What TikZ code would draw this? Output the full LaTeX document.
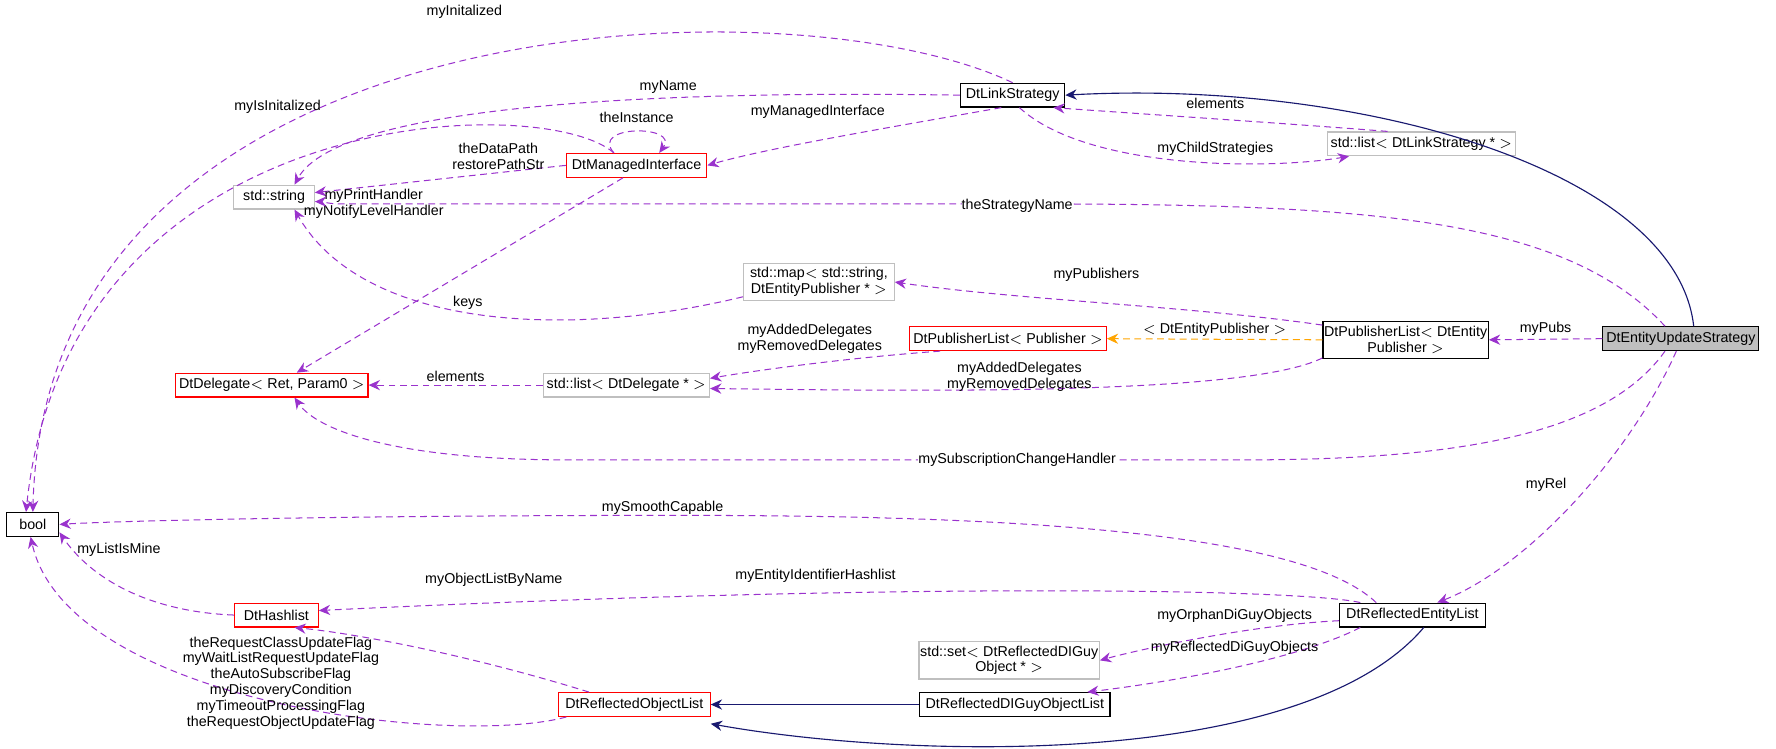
\documentclass[tikz,border=0pt]{standalone}
\usepackage{fontspec}
\setmainfont{Liberation Sans}
\usetikzlibrary{arrows.meta}
\definecolor{purp}{HTML}{9A32CD}
\definecolor{navy}{HTML}{191970}
\definecolor{orng}{HTML}{FFA500}
\definecolor{gbord}{HTML}{BFBFBF}
\begin{document}
\begin{tikzpicture}[x=0.5pt,y=-0.5pt,font=\fontsize{6.3}{7}\selectfont,
 box/.style={draw=black,rectangle,inner sep=1.5pt,minimum height=10.5pt,align=center,line width=0.5pt},
 rbox/.style={box,draw=red},
 gbox/.style={box,draw=gbord},
 use/.style={draw=purp,dashed,dash pattern=on 3pt off 2pt,line width=0.45pt,-{Stealth[length=5pt,width=4.5pt]}},
 inh/.style={draw=navy,line width=0.5pt,-{Stealth[length=5pt,width=4.5pt]}},
 tmpl/.style={draw=orng,dashed,dash pattern=on 3pt off 2pt,line width=0.45pt,-{Stealth[length=5pt,width=4.5pt]}},
 lbl/.style={align=center,inner sep=0pt}]
\fill[white] (0,0) rectangle (1568,661);
\node[box,fill=black!25,minimum width=64pt] (eus) at (1484,299) {DtEntityUpdateStrategy};
\node[box,minimum width=46pt] (ls) at (894,84) {DtLinkStrategy};
\node[gbox,minimum width=75pt] (lls) at (1255,127) {std::list$<$ DtLinkStrategy * $>$};
\node[rbox,minimum width=62pt] (mi) at (562,146) {DtManagedInterface};
\node[gbox,minimum width=35.5pt] (str) at (242,174) {std::string};
\node[gbox,minimum width=66.5pt,minimum height=16pt,inner sep=0.5pt] (map) at (723,249) {std::map$<$ std::string,\\DtEntityPublisher * $>$};
\node[box,minimum width=69pt,minimum height=16.5pt,inner sep=0.5pt] (pde) at (1241,300) {DtPublisherList$<$ DtEntity\\Publisher $>$};
\node[rbox,minimum width=78pt] (pp) at (890,299) {DtPublisherList$<$ Publisher $>$};
\node[gbox,minimum width=65.5pt] (ld) at (553,340) {std::list$<$ DtDelegate * $>$};
\node[rbox,minimum width=77.5pt] (del) at (240,340) {DtDelegate$<$ Ret, Param0 $>$};
\node[box,minimum width=23pt] (bool) at (29,463) {bool};
\node[rbox,minimum width=37pt] (hl) at (244,543) {DtHashlist};
\node[box,minimum width=64.5pt] (rel) at (1247,543) {DtReflectedEntityList};
\node[gbox,minimum width=79pt,minimum height=16.5pt,inner sep=0.5pt] (set) at (891,583) {std::set$<$ DtReflectedDIGuy\\Object * $>$};
\node[box,minimum width=84pt] (rdg) at (896,622) {DtReflectedDIGuyObjectList};
\node[rbox,minimum width=67pt] (rol) at (560,622) {DtReflectedObjectList};

% inheritance
\draw[inh] (eus.north east) ++(-58,0) .. controls (1480,150) and (1200,70) .. (ls.east);
\draw[inh] (rdg.west) -- (rol.east);
\draw[inh] (rel.south) ++(10,0) .. controls (1150,680) and (800,670) .. ([yshift=-3]rol.south east);
\draw[tmpl] (pde.west) -- node[lbl,above=1pt,pos=0.5]{$<$ DtEntityPublisher $>$} (pp.east);

% uses
\draw[use] (ls.north) .. controls (700,-20) and (40,0) .. (bool.north);
\node[lbl] at (410,10) {myInitalized};
\draw[use] (ls.west) .. controls (600,80) and (300,90) .. ([xshift=9]str.north);
\node[lbl] at (590,77) {myName};
\draw[use] ([xshift=-10]mi.north) .. controls (480,80) and (60,90) .. ([xshift=-3]bool.north);
\node[lbl] at (245,94) {myIsInitalized};
\draw[use] ([xshift=-10]mi.north) .. controls (520,110) and (600,110) .. ([xshift=10]mi.north);
\node[lbl] at (562,104) {theInstance};
\draw[use] ([xshift=-5]ls.south) .. controls (800,110) and (680,130) .. (mi.east);
\node[lbl] at (722,99) {myManagedInterface};
\draw[use] ([xshift=-15]lls.north) .. controls (1150,110) and (1000,100) .. ([xshift=18]ls.south);
\node[lbl] at (1073,91) {elements};
\draw[use] ([xshift=3]ls.south) .. controls (960,150) and (1120,150) .. ([xshift=-32]lls.south);
\node[lbl] at (1073,131) {myChildStrategies};
\draw[use] (mi.west) -- ([yshift=2]str.east);
\node[lbl] at (440,138) {theDataPath\\restorePathStr};
\draw[use] ([xshift=-6]mi.south) -- ([xshift=11]del.north);
\node[lbl] at (330,180) {myPrintHandler\\myNotifyLevelHandler};
\draw[use] ([xshift=-7]eus.north) .. controls (1380,190) and (1200,180) .. (900,180) -- (300,180) .. controls (290,180) and (285,178) .. ([yshift=-2]str.east);
\node[lbl,fill=white] at (898,182) {theStrategyName};
\draw[use] ([yshift=-6.5]map.west) .. controls (500,300) and (320,290) .. ([xshift=9]str.south);
\node[lbl] at (413,267) {keys};
\draw[use] ([yshift=6.5]pde.west) .. controls (1050,270) and (900,265) .. (map.east);
\node[lbl] at (968,243) {myPublishers};
\draw[use] ([xshift=-30]pp.south) .. controls (760,315) and (680,325) .. ([yshift=3]ld.east);
\node[lbl] at (715,299) {myAddedDelegates\\myRemovedDelegates};
\draw[use] ([yshift=-8]pde.west) .. controls (1100,350) and (800,345) .. ([yshift=-1.5]ld.east);
\node[lbl] at (900,333) {myAddedDelegates\\myRemovedDelegates};
\draw[use] (eus.west) -- node[lbl,above=1.5pt]{myPubs} (pde.east);
\draw[use] (ld.west) -- node[lbl,above=1.5pt]{elements} (del.east);
\draw[use] ([xshift=-7]eus.south) .. controls (1420,380) and (1300,406) .. (1100,406) -- (500,406) .. controls (350,406) and (280,380) .. ([xshift=10]del.south);
\node[lbl,fill=white] at (898,406) {mySubscriptionChangeHandler};
\draw[use] ([xshift=-2]eus.south) .. controls (1440,400) and (1350,500) .. ([xshift=11]rel.north);
\node[lbl] at (1365,428) {myRel};
\draw[use] ([xshift=-16]rel.north) .. controls (1150,470) and (900,455) .. (600,455) .. controls (300,455) and (100,460) .. (bool.east);
\node[lbl] at (585,448) {mySmoothCapable};
\draw[use] ([xshift=-23]rel.north) .. controls (1150,520) and (800,514) .. ([yshift=2]hl.east);
\node[lbl] at (720,508) {myEntityIdentifierHashlist};
\draw[use] ([yshift=-2.5]rel.west) .. controls (1100,552) and (1000,575) .. (set.east);
\node[lbl] at (1090,544) {myOrphanDiGuyObjects};
\draw[use] ([xshift=-23]rel.south) .. controls (1150,580) and (1050,600) .. ([xshift=32]rdg.north);
\node[lbl] at (1090,572) {myReflectedDiGuyObjects};
\draw[use] (hl.west) .. controls (130,540) and (80,510) .. ([yshift=-3.5]bool.east);
\node[lbl] at (105,485) {myListIsMine};
\draw[use] ([xshift=-20]rol.north) .. controls (420,580) and (320,560) .. ([xshift=8]hl.south);
\node[lbl] at (436,512) {myObjectListByName};
\draw[use] ([xshift=-30]rol.south) .. controls (400,660) and (60,620) .. ([xshift=-1]bool.south);
\node[lbl] at (248,603) {theRequestClassUpdateFlag\\myWaitListRequestUpdateFlag\\theAutoSubscribeFlag\\myDiscoveryCondition\\myTimeoutProcessingFlag\\theRequestObjectUpdateFlag};
\pgfresetboundingbox
\path[use as bounding box] (0,0) rectangle (1568,661);
\end{tikzpicture}
\end{document}
